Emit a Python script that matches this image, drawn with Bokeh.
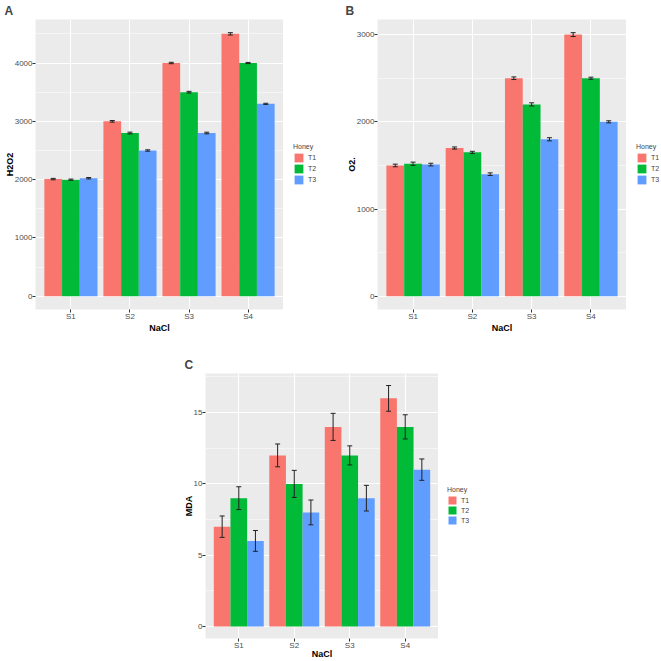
from bokeh.plotting import figure
from bokeh.models import (FactorRange, Range1d, SingleIntervalTicker, Whisker, TeeHead,
                          Legend, LegendItem, ColumnDataSource)
from bokeh.transform import dodge
from bokeh.layouts import column, row, Spacer
from bokeh.embed import file_html
from bokeh.resources import INLINE

FONT = "Liberation Sans"

salinity = ["S1", "S2", "S3", "S4"]
honey = ["T1", "T2", "T3"]
colors = ["#F8766D", "#00BA38", "#619CFF"]

# Panel A: H2O2
h2o2_T1 = [2010, 3000, 4000, 4500]
h2o2_T2 = [2000, 2800, 3500, 4000]
h2o2_T3 = [2025, 2500, 2800, 3300]
h2o2_err_T1 = [12, 14, 12, 20]
h2o2_err_T2 = [10, 15, 14, 10]
h2o2_err_T3 = [12, 12, 14, 10]

# Panel B: O2.
o2_T1 = [1500, 1700, 2500, 3000]
o2_T2 = [1520, 1650, 2200, 2500]
o2_T3 = [1510, 1400, 1800, 2000]
o2_err_T1 = [15, 12, 15, 22]
o2_err_T2 = [18, 12, 18, 12]
o2_err_T3 = [15, 15, 18, 12]

# Panel C: MDA
mda_T1 = [7, 12, 14, 16]
mda_T2 = [9, 10, 12, 14]
mda_T3 = [6, 8, 9, 11]
mda_err_T1 = [0.75, 0.8, 0.95, 0.9]
mda_err_T2 = [0.8, 0.95, 0.67, 0.85]
mda_err_T3 = [0.73, 0.87, 0.9, 0.75]

OFFSETS = [-0.3, 0.0, 0.3]


def panel(letter, ylabel, means, errs, interval, width, height,
          left, top, bottom, title_x, xlab_standoff):
    ymax = max(m + e for ms, es in zip(means, errs) for m, e in zip(ms, es))
    pad = 0.05 * ymax
    p = figure(x_range=FactorRange(factors=salinity, range_padding=0.1,
                                   range_padding_units="absolute"),
               y_range=Range1d(-pad, ymax + pad),
               width=width, height=height, output_backend="svg",
               toolbar_location=None, title=letter,
               min_border_left=left, min_border_right=0,
               min_border_top=top, min_border_bottom=bottom)
    p.background_fill_color = "#EBEBEB"
    p.border_fill_color = "white"
    p.outline_line_color = None

    p.title.text_font = FONT
    p.title.text_font_size = "12px"
    p.title.text_font_style = "bold"
    p.title.align = "left"
    p.title.offset = -(left - title_x)
    p.title.standoff = 3

    sources = []
    for name, col, off, vals, er in zip(honey, colors, OFFSETS, means, errs):
        src = ColumnDataSource(dict(
            x=salinity, top=vals,
            upper=[v + e for v, e in zip(vals, er)],
            lower=[v - e for v, e in zip(vals, er)]))
        sources.append(src)
        p.vbar(x=dodge("x", off, range=p.x_range), top="top", bottom=0,
               width=0.3, source=src, fill_color=col, line_color=None)
        w = Whisker(source=src, base=dodge("x", off, range=p.x_range),
                    upper="upper", lower="lower", level="annotation",
                    line_color="#222222", line_width=1,
                    upper_head=TeeHead(size=5, line_color="#222222", line_width=1),
                    lower_head=TeeHead(size=5, line_color="#222222", line_width=1))
        p.add_layout(w)

    p.yaxis.ticker = SingleIntervalTicker(interval=interval, num_minor_ticks=2)
    p.xgrid.grid_line_color = "white"
    p.xgrid.grid_line_width = 1
    p.ygrid.grid_line_color = "white"
    p.ygrid.grid_line_width = 1
    p.ygrid.minor_grid_line_color = "white"
    p.ygrid.minor_grid_line_width = 0.5

    for ax in (p.xaxis, p.yaxis):
        ax.axis_line_color = None
        ax.major_tick_line_color = "#333333"
        ax.major_tick_out = 3
        ax.major_tick_in = 0
        ax.minor_tick_line_color = None
        ax.minor_tick_out = 0
        ax.minor_tick_in = 0
        ax.major_label_text_font = FONT
        ax.major_label_text_font_size = "8px"
        ax.major_label_text_color = "#4D4D4D"
        ax.axis_label_text_font = FONT
        ax.axis_label_text_font_size = "9px"
        ax.axis_label_text_font_style = "bold"
        ax.axis_label_text_color = "black"
    p.xaxis.major_label_standoff = -1
    p.xaxis.axis_label_standoff = xlab_standoff
    p.yaxis.major_label_standoff = 0
    p.yaxis.axis_label_standoff = -3
    p.xaxis.axis_label = "NaCl"
    p.yaxis.axis_label = ylabel
    return p, sources


def legend_box(sources, width, height, key, x0, bottom):
    # hidden copies of the bars: only their legend entries are shown
    lp = figure(width=width, height=height, output_backend="svg",
                toolbar_location=None,
                x_range=FactorRange(factors=salinity),
                y_range=Range1d(-2, -1),
                min_border=0, x_axis_location=None, y_axis_location=None)
    lp.outline_line_color = None
    lp.grid.visible = False
    lp.background_fill_color = "white"
    lp.border_fill_color = "white"
    items = []
    for name, col, off, src in zip(honey, colors, OFFSETS, sources):
        r = lp.vbar(x=dodge("x", off, range=lp.x_range), top="top", bottom=0,
                    width=0.3, source=src, fill_color=col, line_color=None,
                    visible=False)
        items.append(LegendItem(label=name, renderers=[r]))
    leg = Legend(items=items, title="Honey", location=(x0, bottom),
                 title_text_font=FONT, title_text_font_size="7px",
                 title_text_font_style="normal", title_standoff=2,
                 label_text_font=FONT, label_text_font_size="7px",
                 glyph_width=key, glyph_height=key, label_height=key,
                 label_standoff=4, spacing=0, padding=0, margin=0,
                 inactive_fill_alpha=0,
                 border_line_color=None, background_fill_alpha=0)
    lp.add_layout(leg)
    return lp


pA, sA = panel("A", "H2O2", [h2o2_T1, h2o2_T2, h2o2_T3],
               [h2o2_err_T1, h2o2_err_T2, h2o2_err_T3], 1000,
               283, 338, 35, 17, 29, 4, -1)
lA = legend_box(sA, 47, 338, 11, 10, 124)
pB, sB = panel("B", "O2.", [o2_T1, o2_T2, o2_T3],
               [o2_err_T1, o2_err_T2, o2_err_T3], 1000,
               296, 338, 47, 17, 29, 15, -1)
lB = legend_box(sB, 35, 338, 11, 10, 124)
pC, sC = panel("C", "MDA", [mda_T1, mda_T2, mda_T3],
               [mda_err_T1, mda_err_T2, mda_err_T3], 5,
               278, 323, 45, 35, 23, 24, -4)
lC = legend_box(sC, 52, 323, 10, 9, 113)

layout = column(row(pA, lA, pB, lB),
                row(Spacer(width=160, height=323), pC, lC))

open("out.html", "w").write(file_html(layout, INLINE))
